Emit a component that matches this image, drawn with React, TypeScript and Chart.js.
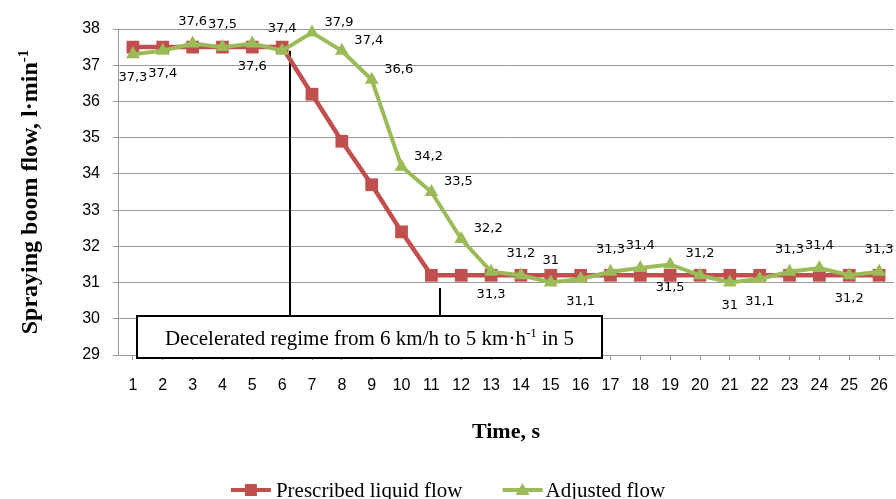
import React, { useEffect, useRef } from 'react';
import { Chart, registerables } from 'chart.js';

Chart.register(...registerables);

// ---------- data ----------
const timeLabels = ['1', '2', '3', '4', '5', '6', '7', '8', '9', '10', '11', '12', '13', '14', '15', '16', '17', '18', '19', '20', '21', '22', '23', '24', '25', '26'];
const prescribedFlow = [37.5, 37.5, 37.5, 37.5, 37.5, 37.5, 36.2, 34.9, 33.7, 32.4, 31.2, 31.2, 31.2, 31.2, 31.2, 31.2, 31.2, 31.2, 31.2, 31.2, 31.2, 31.2, 31.2, 31.2, 31.2, 31.2];
const adjustedFlow = [37.3, 37.4, 37.6, 37.5, 37.6, 37.4, 37.9, 37.4, 36.6, 34.2, 33.5, 32.2, 31.3, 31.2, 31, 31.1, 31.3, 31.4, 31.5, 31.2, 31, 31.1, 31.3, 31.4, 31.2, 31.3];
// where each value label of the adjusted series sits: a = above, b = below, r = right
const adjustedLabelPlacement = ['b', 'b', 'a', 'a', 'b', 'a', 'r', 'r', 'r', 'r', 'r', 'r', 'b', 'a', 'a', 'b', 'a', 'a', 'b', 'a', 'b', 'b', 'a', 'a', 'b', 'a'];
const seriesNames = ['Prescribed liquid flow', 'Adjusted flow'];
const yMin = 29;
const yMax = 38;
const yStep = 1;
const xAxisTitle = 'Time, s';
const yAxisTitleParts = [{ text: 'Spraying boom flow, l·min' }, { text: '-1', sup: true }];
const boxTextParts = [{ text: 'Decelerated regime from 6 km/h to 5 km·h' }, { text: '-1', sup: true }, { text: ' in 5' }];

// annotation geometry in data units (category index, y value)
const regimeStartLine = { x: 5.26, yFrom: 37.4, yTo: 30.07 };
const regimeEndLine = { x: 10.3, yFrom: 30.85, yTo: 30.07 };
const regimeBox = { x0: 0.124, x1: 15.7, yTop: 30.075, yBottom: 28.93 };

const RED = '#C0504D';
const GREEN = '#9BBB59';
const SERIF = '"Liberation Serif", "Times New Roman", serif';
const SANS = '"Liberation Sans", Arial, sans-serif';
const LABEL_FONT = '"DejaVu Sans", Verdana, sans-serif';

type Part = { text: string; sup?: boolean };

function drawRich(ctx: CanvasRenderingContext2D, parts: Part[], cx: number, baseline: number, size: number, weight: string) {
  const base = `${weight} ${size}px ${SERIF}`;
  const supF = `${weight} ${Math.round(size * 0.62)}px ${SERIF}`;
  let total = 0;
  const widths: number[] = [];
  for (const p of parts) {
    ctx.font = p.sup ? supF : base;
    const w = ctx.measureText(p.text).width;
    widths.push(w);
    total += w;
  }
  let x = cx - total / 2;
  ctx.textAlign = 'left';
  ctx.textBaseline = 'alphabetic';
  parts.forEach((p, i) => {
    ctx.font = p.sup ? supF : base;
    ctx.fillText(p.text, x, p.sup ? baseline - size * 0.36 : baseline);
    x += widths[i];
  });
}

function fmt(v: number) {
  return String(v).replace('.', ',');
}

const annotPlugin = {
  id: 'annot',
  beforeDatasetsDraw(chart: any) {
    const ctx = chart.ctx as CanvasRenderingContext2D;
    const xs = chart.scales.x;
    const ys = chart.scales.y;
    ctx.save();
    ctx.strokeStyle = '#000';
    ctx.lineWidth = 2;
    for (const l of [regimeStartLine, regimeEndLine]) {
      const px = Math.round(xs.getPixelForValue(l.x));
      ctx.beginPath();
      ctx.moveTo(px, ys.getPixelForValue(l.yFrom));
      ctx.lineTo(px, ys.getPixelForValue(l.yTo));
      ctx.stroke();
    }
    ctx.restore();
  },
  afterDatasetsDraw(chart: any) {
    const ctx = chart.ctx as CanvasRenderingContext2D;
    const xs = chart.scales.x;
    const ys = chart.scales.y;
    ctx.save();
    // value labels of the adjusted series
    ctx.font = `13px ${LABEL_FONT}`;
    ctx.fillStyle = '#000';
    ctx.textAlign = 'center';
    ctx.textBaseline = 'middle';
    adjustedFlow.forEach((v, i) => {
      const px = xs.getPixelForValue(i);
      const py = ys.getPixelForValue(v);
      const pl = adjustedLabelPlacement[i];
      let lx = px;
      let ly = py;
      if (pl === 'a') ly = py - 22;
      else if (pl === 'b') ly = py + 23;
      else { lx = px + 27; ly = py - 10; }
      ctx.fillText(fmt(v), lx, ly);
    });

    // regime box
    const bx0 = Math.round(xs.getPixelForValue(regimeBox.x0));
    const bx1 = Math.round(xs.getPixelForValue(regimeBox.x1));
    const by0 = Math.round(ys.getPixelForValue(regimeBox.yTop));
    const by1 = Math.round(ys.getPixelForValue(regimeBox.yBottom));
    ctx.fillStyle = '#fff';
    ctx.fillRect(bx0, by0, bx1 - bx0, by1 - by0);
    ctx.strokeStyle = '#000';
    ctx.lineWidth = 2;
    ctx.strokeRect(bx0, by0, bx1 - bx0, by1 - by0);
    ctx.fillStyle = '#000';
    drawRich(ctx, boxTextParts, (bx0 + bx1) / 2, (by0 + by1) / 2 + 8, 21, 'normal');
    ctx.restore();
  },
  afterDraw(chart: any) {
    const ctx = chart.ctx as CanvasRenderingContext2D;
    const area = chart.chartArea;
    ctx.save();
    ctx.fillStyle = '#000';
    // x axis title
    drawRich(ctx, [{ text: xAxisTitle }], (area.left + area.right) / 2, 438, 22, 'bold');
    // y axis title
    ctx.translate(37, (area.top + area.bottom) / 2);
    ctx.rotate(-Math.PI / 2);
    drawRich(ctx, yAxisTitleParts, 0, 0, 24, 'bold');
    ctx.setTransform(1, 0, 0, 1, 0, 0);

    // legend
    const legendY = 490;
    ctx.font = `21px ${SERIF}`;
    const w1 = ctx.measureText(seriesNames[0]).width;
    const w2 = ctx.measureText(seriesNames[1]).width;
    const total = 40 + 5 + w1 + 40 + 40 + 3 + w2;
    let x = chart.width / 2 - total / 2;
    const drawItem = (color: string, marker: 'rect' | 'tri', name: string, w: number, gap: number) => {
      ctx.strokeStyle = color;
      ctx.fillStyle = color;
      ctx.lineWidth = 4;
      ctx.beginPath();
      ctx.moveTo(x, legendY);
      ctx.lineTo(x + 40, legendY);
      ctx.stroke();
      const mx = x + 20;
      if (marker === 'rect') {
        ctx.fillRect(mx - 6, legendY - 6, 12, 12);
      } else {
        ctx.beginPath();
        ctx.moveTo(mx, legendY - 7);
        ctx.lineTo(mx + 7, legendY + 5);
        ctx.lineTo(mx - 7, legendY + 5);
        ctx.closePath();
        ctx.fill();
      }
      ctx.fillStyle = '#000';
      ctx.textAlign = 'left';
      ctx.textBaseline = 'alphabetic';
      ctx.font = `21px ${SERIF}`;
      ctx.fillText(name, x + 40 + gap, legendY + 7);
      x += 40 + gap + w + 40;
    };
    drawItem(RED, 'rect', seriesNames[0], w1, 5);
    drawItem(GREEN, 'tri', seriesNames[1], w2, 3);
    ctx.restore();
  },
};

export default function App() {
  const ref = useRef<HTMLCanvasElement>(null);
  useEffect(() => {
    document.body.style.margin = '0';
    const canvas = ref.current!;
    const chart = new Chart(canvas, {
      type: 'line',
      data: {
        labels: timeLabels,
        datasets: [
          {
            label: seriesNames[1],
            data: adjustedFlow,
            borderColor: GREEN,
            backgroundColor: GREEN,
            borderWidth: 4,
            pointStyle: 'triangle',
            pointRadius: 8,
            pointBorderWidth: 0,
            pointBackgroundColor: GREEN,
            tension: 0,
            order: 0,
            clip: false,
          },
          {
            label: seriesNames[0],
            data: prescribedFlow,
            borderColor: RED,
            backgroundColor: RED,
            borderWidth: 4.5,
            pointStyle: 'rect',
            pointRadius: 9,
            pointBorderWidth: 0,
            pointBackgroundColor: RED,
            tension: 0,
            order: 1,
            clip: false,
          },
        ],
      },
      options: {
        responsive: false,
        animation: false,
        devicePixelRatio: 1,
        layout: { autoPadding: false, padding: { top: 29, right: 2, bottom: 0, left: 0 } },
        plugins: {
          legend: { display: false },
          tooltip: { enabled: false },
        },
        scales: {
          x: {
            type: 'category',
            offset: true,
            grid: { drawOnChartArea: false, drawTicks: true, tickLength: 5, color: '#999' },
            border: { color: '#999' },
            ticks: { font: { family: SANS, size: 16 }, color: '#000', padding: 16, maxRotation: 0, autoSkip: false },
            afterFit: (s: any) => { s.height = 144; s.paddingLeft = 0; s.paddingRight = 0; },
          },
          y: {
            min: yMin,
            max: yMax,
            grid: { color: '#999', tickLength: 5 },
            border: { color: '#999' },
            ticks: { stepSize: yStep, font: { family: SANS, size: 16 }, color: '#000', padding: 13 },
            afterFit: (s: any) => { s.width = 118; s.paddingTop = 0; s.paddingBottom = 0; },
          },
        },
      } as any,
      plugins: [annotPlugin],
    });
    return () => chart.destroy();
  }, []);
  return (
    <div style={{ width: 896, height: 499 }}>
      <canvas ref={ref} width={896} height={499} style={{ display: 'block', width: '896px', height: '499px' }} />
    </div>
  );
}
